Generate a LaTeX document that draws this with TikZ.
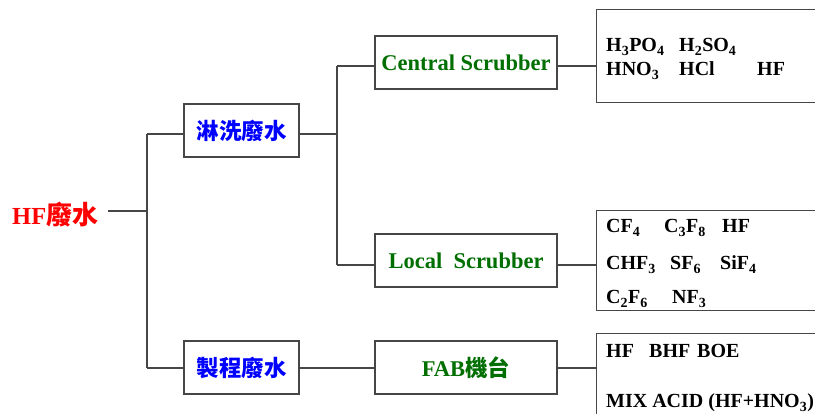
\documentclass[tikz,border=0pt]{standalone}
\usepackage{fontspec}
\setmainfont{Liberation Serif}
\newfontfamily\cjk{Noto Sans CJK TC}
\usetikzlibrary{positioning}
\definecolor{hfred}{RGB}{255,0,0}
\definecolor{wasteblue}{RGB}{0,0,255}
\definecolor{scrubgreen}{RGB}{0,110,0}
\definecolor{linegray}{RGB}{70,70,70}
\tikzset{
  tree line/.style={linegray,line width=1.2pt},
  waste box/.style={draw=linegray,line width=1.2pt,minimum width=115pt,minimum height=53pt,inner sep=0pt,
    font=\fontsize{22.5pt}{24pt}\cjk\bfseries,text=wasteblue},
  source box/.style={draw=linegray,line width=1.2pt,minimum width=182pt,minimum height=53pt,inner sep=0pt,
    font=\fontsize{22.5pt}{24pt}\bfseries,text=scrubgreen},
  result box/.style={draw=linegray,line width=1.2pt,anchor=north west,minimum width=240pt,inner sep=0pt},
  chem text/.style={anchor=base west,inner sep=0pt,font=\fontsize{20pt}{22pt}\bfseries},
}

\begin{document}
\begin{tikzpicture}[x=1pt,y=-1pt]
  \useasboundingbox (0,0) rectangle (815,414);
  % root
  \node[anchor=base west,inner sep=0pt,text=hfred,font=\fontsize{24.5pt}{26pt}\bfseries] (hf) at (12,225) {HF{\cjk\fontsize{26pt}{28pt}\selectfont 廢水}};
  \coordinate (trunk) at (147,211);
  \coordinate (trunktop) at (147,134);
  \coordinate (trunkbot) at (147,368);
  % second level
  \node[waste box] (wash) at (241.5,130.5) {淋洗廢水};
  \node[waste box] (proc) at (241.5,367.5) {製程廢水};
  \coordinate (split) at (337,134);
  \coordinate (splittop) at (337,66);
  \coordinate (splitbot) at (337,265);
  % third level
  \node[source box] (central) at (466,62.5) {Central Scrubber};
  \node[source box] (local) at (466,260.5) {Local\ \ Scrubber};
  \node[source box] (fab) at (466,367.5) {FAB{\cjk 機台}};
  % results
  \node[result box,minimum height=93pt] (res1) at (596,9) {};
  \node[result box,minimum height=100pt] (res2) at (596,210) {};
  \node[result box,minimum height=100pt] (res3) at (596,333) {};

  \node[chem text] (c1) at (606,52) {H\textsubscript{3}PO\textsubscript{4}};
  \node[chem text] (c2) at (679,52) {H\textsubscript{2}SO\textsubscript{4}};
  \node[chem text] (c3) at (606,76) {HNO\textsubscript{3}};
  \node[chem text] (c4) at (679,76) {HCl};
  \node[chem text] (c5) at (757,76) {HF};

  \node[chem text] (l1) at (606,233) {CF\textsubscript{4}};
  \node[chem text] (l2) at (664,233) {C\textsubscript{3}F\textsubscript{8}};
  \node[chem text] (l3) at (722,233) {HF};
  \node[chem text] (l4) at (606,270) {CHF\textsubscript{3}};
  \node[chem text] (l5) at (670,270) {SF\textsubscript{6}};
  \node[chem text] (l6) at (720,270) {SiF\textsubscript{4}};
  \node[chem text] (l7) at (606,304) {C\textsubscript{2}F\textsubscript{6}};
  \node[chem text] (l8) at (672,304) {NF\textsubscript{3}};

  \node[chem text] (f1) at (606,358) {HF};
  \node[chem text] (f2) at (649,358) {BHF};
  \node[chem text] (f3) at (697,358) {BOE};
  \node[chem text] (f4) at (606,408) {MIX ACID (HF+HNO\textsubscript{3})};

  % connectors
  \draw[tree line] ([xshift=10pt]hf.east |- trunk) -- (trunk);
  \draw[tree line] (trunktop) -- (trunkbot);
  \draw[tree line] (trunktop) -- (trunktop -| wash.west);
  \draw[tree line] (trunkbot) -- (trunkbot -| proc.west);
  \draw[tree line] (wash.east |- split) -- (split);
  \draw[tree line] (splittop) -- (splitbot);
  \draw[tree line] (splittop) -- (splittop -| central.west);
  \draw[tree line] (splitbot) -- (splitbot -| local.west);
  \draw[tree line] (proc.east |- trunkbot) -- (trunkbot -| fab.west);
  \draw[tree line] (central.east |- splittop) -- (splittop -| res1.west);
  \draw[tree line] (local.east |- splitbot) -- (splitbot -| res2.west);
  \draw[tree line] (fab.east |- trunkbot) -- (trunkbot -| res3.west);
\end{tikzpicture}
\end{document}
